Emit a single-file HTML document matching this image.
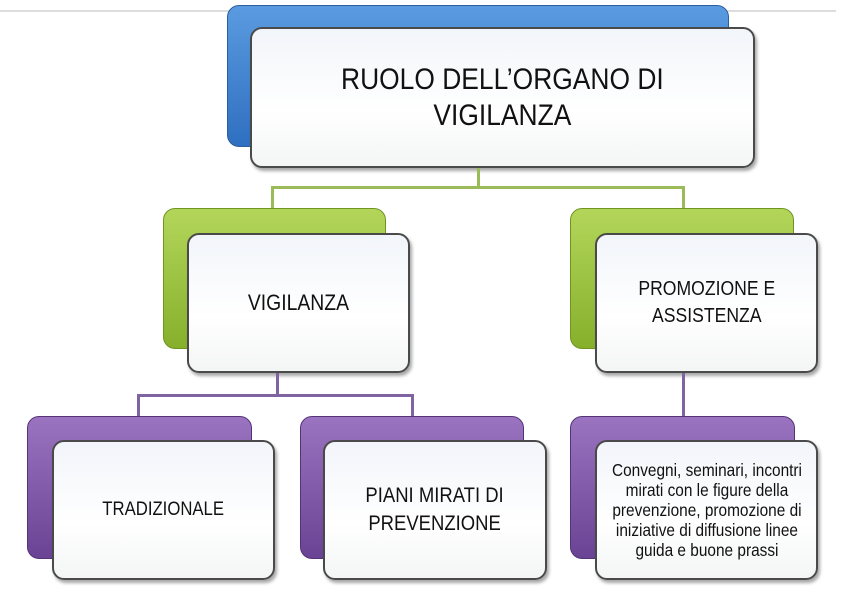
<!DOCTYPE html><html><head><style>
body{margin:0;width:842px;height:616px;background:#fff;position:relative;overflow:hidden;font-family:"Liberation Sans",sans-serif}
.b{position:absolute;border-radius:12px}
.blue{background:linear-gradient(#5a9be0,#2f6fc0);border:1px solid #2a5e9c}
.green{background:linear-gradient(#b3d65a,#86b02c);border:1px solid #6f9420}
.purple{background:linear-gradient(#9a74c0,#6a4394);border:1px solid #553377}
.f{position:absolute;border-radius:12px;background:linear-gradient(#f2f5fa,#fff 60%,#f4f5f5);border:2px solid #4a4a4a;box-shadow:2px 3px 3px rgba(0,0,0,.35);display:flex;align-items:center;justify-content:center;text-align:center;color:#111;box-sizing:border-box}
.f span{display:inline-block;transform:scaleX(0.88);white-space:nowrap}
.l{position:absolute}
</style></head><body>
<div class="l" style="left:0;top:10px;width:836px;height:2px;background:#ddd"></div>
<div class="b blue" style="left:227px;top:5px;width:500px;height:140px"></div>
<div class="f" style="left:250px;top:27px;width:505px;height:141px;font-size:30px;line-height:36px"><span>RUOLO DELL’ORGANO DI<br>VIGILANZA</span></div>
<div class="l" style="left:477px;top:168px;width:3px;height:20px;background:#9bbb59"></div>
<div class="l" style="left:271px;top:186px;width:414px;height:3px;background:#9bbb59"></div>
<div class="l" style="left:271px;top:186px;width:3px;height:24px;background:#9bbb59"></div>
<div class="l" style="left:682px;top:186px;width:3px;height:24px;background:#9bbb59"></div>
<div class="b green" style="left:163px;top:208px;width:221px;height:139px"></div>
<div class="f" style="left:187px;top:233px;width:223px;height:140px;font-size:22px"><span>VIGILANZA</span></div>
<div class="b green" style="left:570px;top:208px;width:222px;height:139px"></div>
<div class="f" style="left:595px;top:233px;width:223px;height:140px;font-size:20px;line-height:27px"><span>PROMOZIONE E<br>ASSISTENZA</span></div>
<div class="l" style="left:276px;top:373px;width:3px;height:23px;background:#8064a2"></div>
<div class="l" style="left:137px;top:394px;width:277px;height:3px;background:#8064a2"></div>
<div class="l" style="left:137px;top:394px;width:3px;height:24px;background:#8064a2"></div>
<div class="l" style="left:411px;top:394px;width:3px;height:24px;background:#8064a2"></div>
<div class="l" style="left:682px;top:373px;width:3px;height:45px;background:#8064a2"></div>
<div class="b purple" style="left:27px;top:416px;width:223px;height:141px"></div>
<div class="f" style="left:52px;top:440px;width:223px;height:140px;font-size:19px"><span>TRADIZIONALE</span></div>
<div class="b purple" style="left:300px;top:416px;width:222px;height:141px"></div>
<div class="f" style="left:323px;top:440px;width:224px;height:140px;font-size:21px;line-height:28px"><span>PIANI MIRATI DI<br>PREVENZIONE</span></div>
<div class="b purple" style="left:570px;top:416px;width:223px;height:141px"></div>
<div class="f" style="left:595px;top:440px;width:223px;height:140px;font-size:17.5px;line-height:20px"><span>Convegni, seminari, incontri<br>mirati con le figure della<br>prevenzione, promozione di<br>iniziative di diffusione linee<br>guida e buone prassi</span></div>
</body></html>
